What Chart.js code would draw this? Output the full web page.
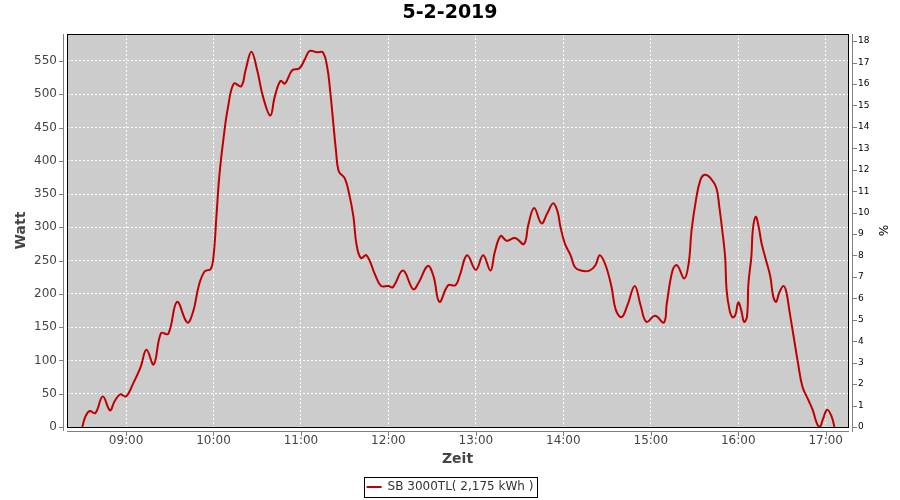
<!DOCTYPE html>
<html>
<head>
<meta charset="utf-8">
<script src="https://cdn.jsdelivr.net/npm/chart.js@4.4.0/dist/chart.umd.min.js"></script>
<style>
    html, body { margin: 0; padding: 0; background: #fff; }
    #wrap { width: 900px; height: 500px; }
</style>
</head>
<body>
<div id="wrap"><canvas id="power-chart"></canvas></div>
<script>
// readings of the day
const times = ['08:30','08:32','08:35','08:39','08:44','08:49','08:52','08:56','09:00','09:05',
    '09:10','09:14','09:19','09:24','09:29','09:35','09:42','09:46','09:50','09:54',
    '09:58','10:00','10:02','10:04','10:07','10:10','10:14','10:19','10:22','10:26',
    '10:30','10:34','10:39','10:42','10:46','10:49','10:54','10:59','11:03','11:06',
    '11:11','11:15','11:18','11:20','11:22','11:24','11:26','11:30','11:33','11:36',
    '11:38','11:41','11:45','11:51','11:55','12:00','12:03','12:10','12:17','12:21',
    '12:27','12:31','12:35','12:41','12:46','12:49','12:54','13:00','13:05','13:10',
    '13:13','13:17','13:21','13:27','13:33','13:36','13:40','13:45','13:49','13:53',
    '13:56','13:58','14:01','14:05','14:08','14:12','14:18','14:22','14:25','14:29',
    '14:33','14:36','14:40','14:44','14:49','14:53','14:57','15:03','15:09','15:11',
    '15:15','15:18','15:23','15:26','15:28','15:31','15:34','15:37','15:41','15:45',
    '15:47','15:49','15:51','15:52','15:54','15:56','15:58','16:00','16:02','16:04',
    '16:06','16:07','16:09','16:10','16:12','16:14','16:16','16:19','16:22','16:24',
    '16:26','16:28','16:31','16:33','16:35','16:38','16:41','16:44','16:48','16:51',
    '16:54','16:56','16:58','17:01','17:04','17:06'];
const watts = [0,15,24,21,46,25,38,49,46,66,
    90,116,94,141,140,188,157,173,213,234,
    237,256,316,377,436,481,516,512,536,564,
    536,496,468,496,520,516,536,539,554,565,
    563,563,541,506,461,416,384,374,351,316,
    276,254,258,228,212,212,210,235,207,218,
    242,226,188,213,213,228,258,236,258,235,
    263,287,280,284,275,304,329,306,321,336,
    324,301,276,258,240,235,235,243,258,243,
    211,176,165,183,212,183,158,167,157,186,
    236,243,223,246,296,341,371,379,374,359,
    331,296,256,206,176,165,168,187,176,158,
    166,216,256,296,316,301,276,251,226,196,
    188,201,212,203,176,136,96,61,41,26,
    5,0,11,26,16,0];

const hourTicks = ['09:00','10:00','11:00','12:00','13:00','14:00','15:00','16:00','17:00'];
const wattTicks = [0,50,100,150,200,250,300,350,400,450,500,550];
const pctTicks = [0,1,2,3,4,5,6,7,8,9,10,11,12,13,14,15,16,17,18];
const seriesLabel = 'SB 3000TL( 2,175 kWh )';

function toMin(s) {
    const p = s.split(':');
    return parseInt(p[0], 10) * 60 + parseInt(p[1], 10);
}
function fmtMin(v) {
    const h = Math.floor(v / 60), m = Math.round(v % 60);
    return String(h).padStart(2, '0') + ':' + String(m).padStart(2, '0');
}

Chart.defaults.font.family = "'DejaVu Sans', sans-serif";

// grey plot background, black frame, offset axis lines like the original
const plotFrame = {
    id: 'plotFrame',
    beforeDraw(chart) {
        const a = chart.chartArea, ctx = chart.ctx;
        ctx.save();
        ctx.fillStyle = '#cccccc';
        ctx.fillRect(a.left, a.top, a.right - a.left, a.bottom - a.top);
        ctx.restore();
    },
    beforeDatasetsDraw(chart) {
        const a = chart.chartArea, ctx = chart.ctx;
        ctx.save();
        ctx.strokeStyle = '#000';
        ctx.lineWidth = 1;
        ctx.strokeRect(Math.round(a.left) + 0.5, Math.round(a.top) + 0.5,
            Math.round(a.right - a.left), Math.round(a.bottom - a.top));
        ctx.restore();
    },
    afterDraw(chart) {
        const a = chart.chartArea, ctx = chart.ctx;
        const {x, y, y1} = chart.scales;
        const L = Math.round(a.left), R = Math.round(a.right), T = Math.round(a.top), B = Math.round(a.bottom);
        ctx.save();
        ctx.strokeStyle = '#808080';
        ctx.lineWidth = 1;
        ctx.beginPath();
        // left axis
        ctx.moveTo(L - 3.5, T); ctx.lineTo(L - 3.5, B + 4);
        wattTicks.forEach(v => {
            const py = Math.round(y.getPixelForValue(v)) + 0.5;
            ctx.moveTo(L - 8, py); ctx.lineTo(L - 3, py);
        });
        // bottom axis
        ctx.moveTo(L, B + 4.5); ctx.lineTo(R + 1, B + 4.5);
        hourTicks.forEach(t => {
            const px = Math.round(x.getPixelForValue(toMin(t))) + 0.5;
            ctx.moveTo(px, B + 4); ctx.lineTo(px, B + 9);
        });
        // right axis
        ctx.moveTo(R + 4.5, T); ctx.lineTo(R + 4.5, B + 5);
        pctTicks.forEach(v => {
            const py = Math.round(y1.getPixelForValue(v)) + 0.5;
            ctx.moveTo(R + 5, py); ctx.lineTo(R + 9, py);
        });
        ctx.stroke();

        // frame round the legend
        const hb = chart.legend && chart.legend.legendHitBoxes && chart.legend.legendHitBoxes[0];
        if (hb) {
            ctx.strokeStyle = '#000';
            ctx.strokeRect(Math.round(hb.left) - 2.5, Math.round(hb.top) - 3.5, Math.round(hb.width) + 6, 20);
        }
        ctx.restore();
    }
};

const data = {
    datasets: [{
        label: seriesLabel,
        data: times.map((t, i) => ({x: toMin(t), y: watts[i]})),
        borderColor: '#c00000',
        backgroundColor: '#c00000',
        borderWidth: 2,
        pointRadius: 0,
        tension: 0.4,
        yAxisID: 'y'
    }]
};

const config = {
    type: 'line',
    data: data,
    plugins: [plotFrame],
    options: {
        responsive: true,
        maintainAspectRatio: false,
        animation: false,
        layout: {padding: {left: 0, right: 0, top: 0, bottom: -3}},
        plugins: {
            title: {
                display: true,
                text: '5-2-2019',
                color: '#000',
                font: {size: 19, weight: 'bold', lineHeight: 1.2},
                padding: {top: 2, bottom: 9.2}
            },
            legend: {
                position: 'bottom',
                labels: {
                    color: '#333',
                    font: {size: 12},
                    boxWidth: 15,
                    boxHeight: 2,
                    padding: 8,
                    generateLabels: (chart) => Chart.defaults.plugins.legend.labels.generateLabels(chart)
                        .map(l => Object.assign(l, {lineWidth: 0}))
                }
            },
            tooltip: {enabled: false}
        },
        scales: {
            x: {
                type: 'linear',
                min: 499.5,
                max: 1035.3,
                afterBuildTicks: (scale) => { scale.ticks = hourTicks.map(t => ({value: toMin(t)})); },
                afterFit: (scale) => {
                    const lh = scale.chart.legend ? scale.chart.legend.height : 0;
                    scale.height = scale.chart.height + 3 - lh - 427;
                },
                ticks: {
                    color: '#444',
                    font: {size: 12},
                    padding: 7,
                    maxRotation: 0,
                    autoSkip: false,
                    callback: (v) => fmtMin(v)
                },
                grid: {color: '#ffffff', lineWidth: 1, drawTicks: false},
                border: {display: false, dash: [2, 2]},
                title: {
                    display: true,
                    text: 'Zeit',
                    color: '#444',
                    font: {size: 14, weight: 'bold'},
                    padding: {top: 0, bottom: 5.6}
                }
            },
            y: {
                type: 'linear',
                position: 'left',
                min: 0,
                max: 590.5,
                afterBuildTicks: (scale) => { scale.ticks = wattTicks.map(v => ({value: v})); },
                afterFit: (scale) => { scale.width = 67; },
                ticks: {color: '#444', font: {size: 12}, padding: 10},
                grid: {color: '#ffffff', lineWidth: 1, drawTicks: false},
                border: {display: false, dash: [2, 2]},
                title: {
                    display: true,
                    text: 'Watt',
                    color: '#444',
                    font: {size: 14, weight: 'bold'},
                    padding: {top: 12.6, bottom: 0}
                }
            },
            y1: {
                type: 'linear',
                position: 'right',
                min: 0,
                max: 18.33,
                afterBuildTicks: (scale) => { scale.ticks = pctTicks.map(v => ({value: v})); },
                afterFit: (scale) => { scale.width = 52; },
                ticks: {color: '#000', font: {size: 9}, padding: 10},
                grid: {drawOnChartArea: false, drawTicks: false},
                border: {display: false},
                title: {
                    display: true,
                    text: '%',
                    color: '#000',
                    font: {size: 12},
                    padding: {top: 10.8, bottom: 0}
                }
            }
        }
    }
};

let ctx = document.getElementById('power-chart').getContext('2d');
let powerChart = new Chart(ctx, config);
</script>
</body>
</html>
